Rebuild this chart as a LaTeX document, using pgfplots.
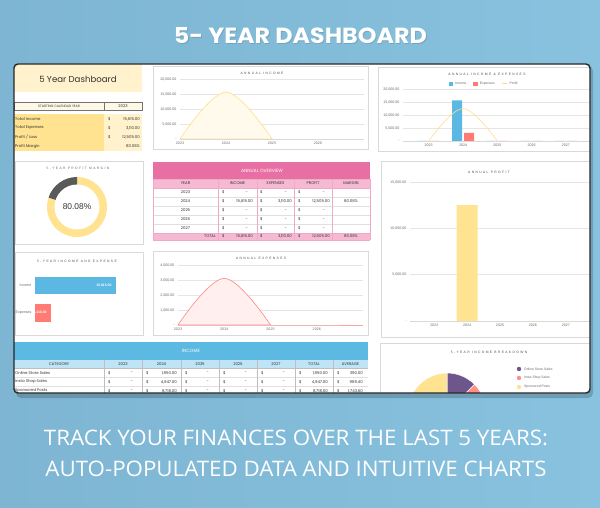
\documentclass[border=0pt]{standalone}
\usepackage{pgfplots}
\pgfplotsset{compat=1.18}
\usepackage{fontspec}
\setmainfont{Liberation Sans}
\newfontfamily\pop{Poppins}
\newfontfamily\opn{Open Sans}
\newfontfamily\spc{Liberation Sans}[LetterSpace=42]
\definecolor{bgA}{HTML}{7DB5D2}
\definecolor{bgB}{HTML}{88C2DF}
\definecolor{cream}{HTML}{FFF2CC}
\definecolor{ylw}{HTML}{FFE391}
\definecolor{ylwline}{HTML}{FFDF8A}
\definecolor{pnl}{HTML}{D9D9D9}
\definecolor{pinkD}{HTML}{E86FA3}
\definecolor{pinkL}{HTML}{F5B9D3}
\definecolor{blueD}{HTML}{5CB9E2}
\definecolor{blueL}{HTML}{BFE4F6}
\definecolor{incB}{HTML}{5AB8E3}
\definecolor{expR}{HTML}{FF7B73}
\definecolor{donutG}{HTML}{5A5A5A}
\definecolor{purp}{HTML}{6E558C}
\definecolor{tick}{HTML}{6A6A6A}
\definecolor{txt}{HTML}{333333}
\newcommand\tb{\pop\fontsize{3.9}{4.4}\selectfont}
\newcommand\ct{\spc\fontsize{3.3}{4}\selectfont}
\newcommand\money[4]{\node[anchor=west,inner sep=0pt] at (#1,#3) {\$};\node[anchor=east,inner sep=0pt] at (#2,#3) {#4};}
\newcommand\nil[3]{\node[anchor=west,inner sep=0pt] at (#1,#3) {\$};\node[anchor=east,inner sep=0pt] at (#2-5,#3) {-};}
\pgfplotsset{
  dash/.style={scale only axis, axis x line*=bottom, axis y line*=left,
    y axis line style={draw=none}, x axis line style={draw=pnl, line width=0.9pt},
    major tick length=0pt, ymajorgrids, grid style={draw=black!10, line width=0.35pt},
    scaled y ticks=false, scaled x ticks=false,
    tick label style={font=\fontsize{3.6}{4}\selectfont, text=tick},
    xticklabel style={yshift=1pt}},
}
\begin{document}
\begin{tikzpicture}
\shade[left color=bgA, right color=bgB] (0pt,0pt) rectangle (600pt,-508pt);
\path[use as bounding box] (0pt,0pt) rectangle (600pt,-508pt);
\begin{scope}[x=1pt,y=-1pt]
\node[black, opacity=0.12, inner sep=0pt] at (301.3,36.5) {\resizebox{253pt}{16pt}{\pop\bfseries 5- YEAR DASHBOARD}};
\node[white, inner sep=0pt] at (300.5,35.5) {\resizebox{253pt}{16pt}{\pop\bfseries 5- YEAR DASHBOARD}};
\node[white, inner sep=0pt] at (296,438) {\resizebox{504pt}{15.5pt}{\opn TRACK YOUR FINANCES OVER THE LAST 5 YEARS:}};
\node[white, inner sep=0pt] at (296,468.5) {\resizebox{501pt}{15.5pt}{\opn AUTO-POPULATED DATA AND INTUITIVE CHARTS}};
\fill[black, opacity=0.18, rounded corners=5pt] (16,66) rectangle (593,398);
\fill[white, rounded corners=4pt] (14,64) rectangle (590,393);
\end{scope}
\begin{scope}
\clip[rounded corners=4pt] (14pt,-64pt) rectangle (590pt,-393pt);
\begin{scope}[x=1pt,y=-1pt, every node/.style={font=\tb, text=txt}]
% ---------- panel A
\fill[cream] (14,64) rectangle (142,92);
\node[font=\pop\fontsize{8.6}{10}\selectfont] at (78,79) {5 Year Dashboard};
\draw[black!55, line width=0.3pt, fill=cream!50] (14,102) rectangle (104,110) (104,102) rectangle (142,110);
\node[font=\pop\fontsize{3.3}{4}\selectfont] at (59,106) {STARTING CALENDAR YEAR};
\node at (123,106) {2023};
\fill[ylw] (14,114) rectangle (104,151);
\fill[cream] (104,114) rectangle (142,151);
\node[anchor=west,inner sep=0pt] at (15,119) {Total Income};
\node[anchor=west,inner sep=0pt] at (15,128) {Total Expenses};
\node[anchor=west,inner sep=0pt] at (15,137) {Profit / Loss};
\node[anchor=west,inner sep=0pt] at (15,146.5) {Profit Margin};
\money{108}{140}{119}{15,615.00}
\money{108}{140}{128}{3,110.00}
\money{108}{140}{137}{12,505.00}
\node[anchor=east,inner sep=0pt] at (140,146.5) {80.08\%};
% ---------- panel borders
\draw[pnl, line width=0.6pt] (153,66) rectangle (368,149);
\draw[pnl, line width=0.6pt] (378,67) rectangle (596,151);
\draw[pnl, line width=0.6pt] (15,161) rectangle (143,244);
\draw[pnl, line width=0.6pt] (381,161) rectangle (596,337);
\draw[pnl, line width=0.6pt] (15,252) rectangle (143,335);
\draw[pnl, line width=0.6pt] (153,251) rectangle (368,335);
\draw[pnl, line width=0.6pt] (380,343) rectangle (596,400);
\node[font=\ct, text=black!70] at (262,73) {ANNUAL INCOME};
\node[font=\ct, text=black!70] at (487,74) {ANNUAL INCOME \& EXPENSES};
\node[font=\ct, text=black!60] at (78,168) {5-YEAR PROFIT MARGIN};
\node[font=\ct, text=black!70] at (489,172) {ANNUAL PROFIT};
\node[font=\ct, text=black!70] at (77,261) {5-YEAR INCOME AND EXPENSE};
\node[font=\ct, text=black!70] at (261,258) {ANNUAL EXPENSES};
\node[font=\ct, text=black!70] at (489,352) {5-YEAR INCOME BREAKDOWN};
% ---------- annual overview table
\fill[pinkD] (153,162) rectangle (370,179);
\node[text=white, font=\pop\fontsize{4.6}{5}\selectfont] at (262,170.5) {ANNUAL OVERVIEW};
\fill[pinkL] (153,179) rectangle (370,188);
\fill[pinkL] (153,233) rectangle (370,240);
\foreach \y in {197,206,215,224} \draw[black!12, line width=0.3pt] (153,\y) -- (370,\y);
\foreach \x in {218,257,294,332} \draw[pinkD!60, line width=0.4pt] (\x,179) -- (\x,240);
\draw[pinkD!60, line width=0.4pt] (153,179) -- (370,179) (153,188) -- (370,188) (153,233) -- (370,233) (153,240) -- (370,240) (153,179) -- (153,240) (370,179) -- (370,240);
\node at (185.5,183.5) {YEAR};
\node at (237.5,183.5) {INCOME};
\node at (275.5,183.5) {EXPENSES};
\node at (313,183.5) {PROFIT};
\node at (351,183.5) {MARGIN};
\node at (185.5,192.5) {2023};
\node at (185.5,201.5) {2024};
\node at (185.5,210.5) {2025};
\node at (185.5,219.5) {2026};
\node at (185.5,228.5) {2027};
\nil{222}{253}{192.5}\nil{260}{292}{192.5}\nil{298}{330}{192.5}
\money{222}{253}{201.5}{15,615.00}\money{260}{292}{201.5}{3,110.00}\money{298}{330}{201.5}{12,505.00}
\node at (351,201.5) {80.08\%};
\nil{222}{253}{210.5}\nil{260}{292}{210.5}\nil{298}{330}{210.5}
\nil{222}{253}{219.5}\nil{260}{292}{219.5}\nil{298}{330}{219.5}
\nil{222}{253}{228.5}\nil{260}{292}{228.5}\nil{298}{330}{228.5}
\node[anchor=east,inner sep=0pt] at (216,236.5) {TOTAL};
\money{222}{253}{236.5}{15,615.00}\money{260}{292}{236.5}{3,110.00}\money{298}{330}{236.5}{12,505.00}
\node at (351,236.5) {80.08\%};
% ---------- income table
\fill[blueD] (14,342) rectangle (368,360);
\node[text=white, font=\pop\fontsize{4.6}{5}\selectfont] at (191,351) {INCOME};
\fill[blueL] (14,360) rectangle (368,368);
\foreach \y in {377,386} \draw[black!12, line width=0.3pt] (14,\y) -- (368,\y);
\foreach \x in {104,142,181,219,257,295,333} \draw[black!25, line width=0.3pt] (\x,360) -- (\x,396);
\draw[black!25, line width=0.3pt] (14,368) -- (368,368);
\node at (59,364) {CATEGORY};
\node at (123,364) {2023};
\node at (161.5,364) {2024};
\node at (200,364) {2025};
\node at (238,364) {2026};
\node at (276,364) {2027};
\node at (314,364) {TOTAL};
\node at (350.5,364) {AVERAGE};
\node[anchor=west,inner sep=0pt] at (15,373) {Online Store Sales};
\node[anchor=west,inner sep=0pt] at (15,382) {Insta Shop Sales};
\node[anchor=west,inner sep=0pt] at (15,391) {Sponsored Posts};
\nil{108}{138}{373}\money{146}{177}{373}{1,950.00}\nil{185}{214}{373}\nil{223}{252}{373}\nil{261}{290}{373}\money{299}{328}{373}{1,950.00}\money{337}{363}{373}{390.00}
\nil{108}{138}{382}\money{146}{177}{382}{4,947.00}\nil{185}{214}{382}\nil{223}{252}{382}\nil{261}{290}{382}\money{299}{328}{382}{4,947.00}\money{337}{363}{382}{989.40}
\nil{108}{138}{391}\money{146}{177}{391}{8,718.00}\nil{185}{214}{391}\nil{223}{252}{391}\nil{261}{290}{391}\money{299}{328}{391}{8,718.00}\money{337}{363}{391}{1,743.60}
% pie legend
\fill[purp] (519,369) circle[radius=2.2];
\fill[expR!85!white] (519,378) circle[radius=2.2];
\fill[ylw] (519,387) circle[radius=2.2];
\node[anchor=west,inner sep=0pt,font=\fontsize{3.4}{4}\selectfont, text=tick] at (524,369) {Online Store Sales};
\node[anchor=west,inner sep=0pt,font=\fontsize{3.4}{4}\selectfont, text=tick] at (524,378) {Insta Shop Sales};
\node[anchor=west,inner sep=0pt,font=\fontsize{3.4}{4}\selectfont, text=tick] at (524,387) {Sponsored Posts};
\end{scope}
% ---------- Annual income
\begin{axis}[dash, at={(180pt,-139pt)}, anchor=south west, width=184pt, height=60pt,
  xmin=2023, xmax=2027, ymin=0, ymax=20000,
  xtick={2023,2024,2025,2026}, xticklabels={2023,2024,2025,2026},
  ytick={0,5000,10000,15000,20000}, yticklabels={-,{5,000.00},{10,000.00},{15,000.00},{20,000.00}}]
\addplot[draw=ylwline, line width=0.6pt, fill=ylw!18, smooth, tension=0.6] coordinates {(2023,0)(2024,15615)(2025,0)} \closedcycle;
\addplot[draw=ylwline!80!orange, line width=0.6pt] coordinates {(2025,0)(2026,0)(2027,0)};
\end{axis}
% ---------- Annual income & expenses
\begin{axis}[dash, at={(403pt,-141pt)}, anchor=south west, width=188.6pt, height=52pt,
  xmin=2022.25, xmax=2027.75, ymin=0, ymax=20000,
  xtick={2023,2024,2025,2026,2027}, xticklabels={2023,2024,2025,2026,2027},
  ytick={0,5000,10000,15000,20000}, yticklabels={-,{5,000.00},{10,000.00},{15,000.00},{20,000.00}},
  legend style={at={(0.43,1.02)}, anchor=south, draw=none, fill=none, font=\fontsize{3.4}{4}\selectfont, text=tick, inner sep=0pt},
  legend columns=3, /tikz/every even column/.append style={column sep=5pt},
  legend image code/.code={\fill[#1] (0pt,-1.8pt) rectangle (4.5pt,2.2pt);}]
\addplot[ybar, bar width=10pt, bar shift=-6pt, fill=incB, draw=none] coordinates {(2023,0)(2024,15615)(2025,0)(2026,0)(2027,0)};
\addlegendentry{Income}
\addplot[ybar, bar width=10pt, bar shift=6pt, fill=expR, draw=none] coordinates {(2023,0)(2024,3110)(2025,0)(2026,0)(2027,0)};
\addlegendentry{Expenses}
\addplot[draw=ylwline, line width=0.6pt, smooth, tension=0.6, legend image code/.code={\draw[ylwline, line width=0.8pt] (0pt,0.2pt) -- (5pt,0.2pt);}] coordinates {(2023,0)(2024,12505)(2025,0)};
\addlegendentry{Profit}
\addplot[draw=ylwline, line width=0.6pt, forget plot] coordinates {(2025,0)(2026,0)(2027,0)};
\end{axis}
% ---------- donut
\begin{axis}[at={(77pt,-207pt)}, anchor=center, scale only axis, width=60pt, height=60pt,
  xmin=-1, xmax=1, ymin=-1, ymax=1, hide axis, clip=false]
\pgfmathsetmacro\pmargin{80.08}
\fill[ylw] (0,0) -- ++(90:30pt) arc[start angle=90, delta angle={-\pmargin*3.6}, radius=30pt] -- cycle;
\fill[donutG] (0,0) -- ++(90:30pt) arc[start angle=90, delta angle={(100-\pmargin)*3.6}, radius=30pt] -- cycle;
\fill[white] (0,0) circle[radius=22.5pt];
\node[font=\fontsize{8.4}{9}\selectfont, text=txt] at (0,0) {80.08\%};
\end{axis}
% ---------- annual profit
\begin{axis}[dash, at={(410pt,-321pt)}, anchor=south west, width=180pt, height=139pt,
  xmin=2022.27, xmax=2027.73, ymin=0, ymax=15000,
  xtick={2023,2024,2025,2026,2027}, xticklabels={2023,2024,2025,2026,2027},
  ytick={0,5000,10000,15000}, yticklabels={-,{5,000.00},{10,000.00},{15,000.00}}]
\addplot[ybar, bar width=21pt, bar shift=0pt, fill=ylw, draw=none] coordinates {(2023,0)(2024,12505)(2025,0)(2026,0)(2027,0)};
\end{axis}
% ---------- 5-year income and expense (hbar)
\begin{axis}[scale only axis, at={(35pt,-326.75pt)}, anchor=south west, width=105pt, height=55pt,
  xmin=0, xmax=20242, ymin=0.5, ymax=2.5, axis x line=none, axis y line*=left,
  y axis line style={draw=none}, major tick length=0pt, xtick=\empty,
  ytick={1,2}, yticklabels={Expenses,Income}, yticklabel style={font=\fontsize{3.6}{4}\selectfont, text=tick},
  every node near coord/.append style={anchor=east, text=white, font=\bfseries\fontsize{3.4}{4}\selectfont, xshift=-1pt}]
\addplot[xbar, bar width=17.5pt, bar shift=0pt, fill=incB, draw=none, nodes near coords={15,615.00}] coordinates {(15615,2)};
\addplot[xbar, bar width=17.5pt, bar shift=0pt, fill=expR, draw=none, nodes near coords={3,110.00}] coordinates {(3110,1)};
\end{axis}
% ---------- annual expenses
\begin{axis}[dash, at={(178pt,-325pt)}, anchor=south west, width=185pt, height=60pt,
  xmin=2023, xmax=2027, ymin=0, ymax=4000,
  xtick={2023,2024,2025,2026}, xticklabels={2023,2024,2025,2026},
  ytick={0,1000,2000,3000,4000}, yticklabels={-,{1,000.00},{2,000.00},{3,000.00},{4,000.00}}]
\addplot[draw=expR!90, line width=0.6pt, fill=expR!12, smooth, tension=0.6] coordinates {(2023,0)(2024,3110)(2025,0)} \closedcycle;
\addplot[draw=expR!70, line width=0.6pt] coordinates {(2025,0)(2026,0)(2027,0)};
\end{axis}
% ---------- pie
\begin{axis}[at={(447pt,-412pt)}, anchor=center, scale only axis, width=78pt, height=78pt,
  xmin=-1, xmax=1, ymin=-1, ymax=1, hide axis, clip=false]
\pgfmathsetmacro\tot{1950+4947+8718}
\pgfmathsetmacro\aA{1950/\tot*360}
\pgfmathsetmacro\aB{4947/\tot*360}
\pgfmathsetmacro\aC{8718/\tot*360}
\filldraw[fill=purp, draw=white, line width=0.5pt] (0,0) -- ++(90:39pt) arc[start angle=90, delta angle=-\aA, radius=39pt] -- cycle;
\filldraw[fill=expR!85!white, draw=white, line width=0.5pt] (0,0) -- ++({90-\aA}:39pt) arc[start angle={90-\aA}, delta angle=-\aB, radius=39pt] -- cycle;
\filldraw[fill=ylw, draw=white, line width=0.5pt] (0,0) -- ++({90-\aA-\aB}:39pt) arc[start angle={90-\aA-\aB}, delta angle=-\aC, radius=39pt] -- cycle;
\end{axis}
\end{scope}
\draw[black!85, line width=1.4pt, rounded corners=4pt] (14pt,-64pt) rectangle (590pt,-393pt);
\end{tikzpicture}
\end{document}
